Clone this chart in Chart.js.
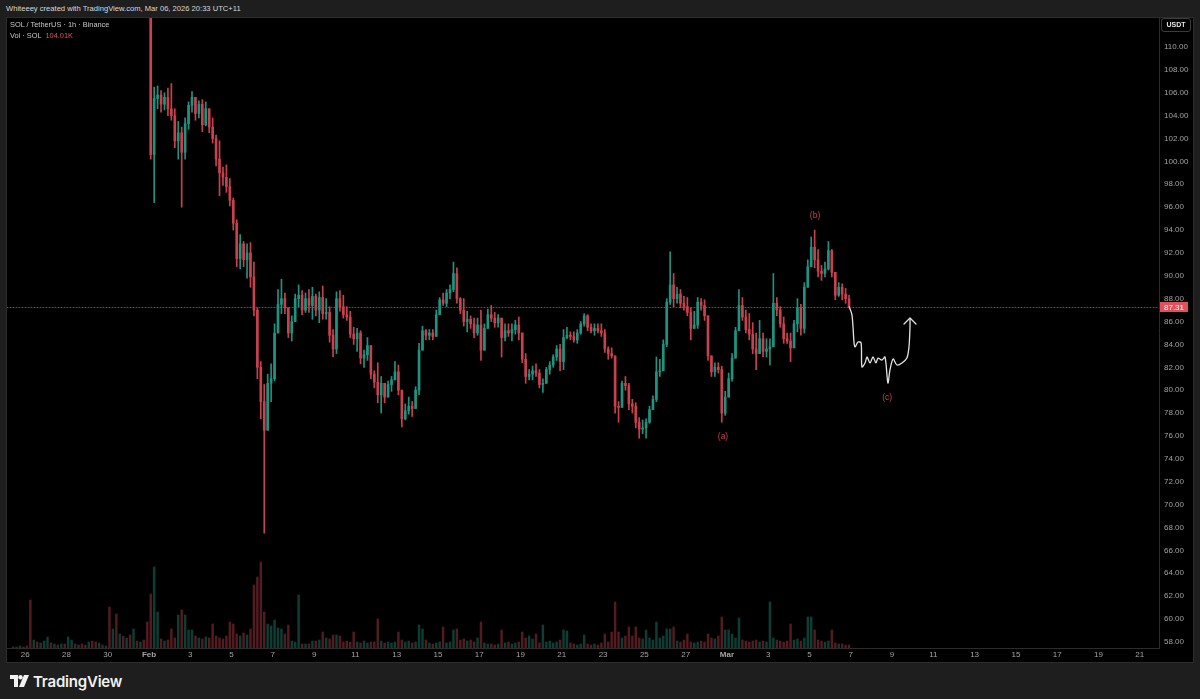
<!DOCTYPE html>
<html>
<head>
<meta charset="utf-8">
<script src="https://cdn.jsdelivr.net/npm/chart.js@4.4.1/dist/chart.umd.min.js"></script>
<style>
  html, body { margin: 0; padding: 0; width: 1200px; height: 699px; overflow: hidden; background: #1e1e1e; }
  body { font-family: "Liberation Sans", Arial, sans-serif; }
  #top { position: absolute; left: 6px; top: 3px; font-size: 7.6px; line-height: 12px; color: #d9d9d9; white-space: nowrap; }
  #frame { position: absolute; left: 7px; top: 18px; width: 1186px; height: 644px; background: #000; box-shadow: 0 0 0 1px #2c2c2c; }
  #chart { position: absolute; left: 0; top: 0; }
  #legend { position: absolute; left: 10px; top: 19px; font-size: 7.4px; line-height: 11px; color: #c9c9c9; white-space: nowrap; }
  #legend .red { color: #e2505b; }
  #unit { position: absolute; left: 1161px; top: 18px; width: 30px; height: 14px; border: 1px solid #3c3c3c; border-radius: 3px;
          box-sizing: border-box; color: #e6e6e6; font-size: 7px; font-weight: bold; line-height: 12px; text-align: center; }
  #logo { position: absolute; left: 10px; top: 673px; height: 16px; display: flex; align-items: center; color: #f2f2f2;
          font-family: Inter, "Liberation Sans", sans-serif; font-weight: 600; font-size: 15px; letter-spacing: -0.2px; }
  #logo svg { margin-right: 4px; }
</style>
</head>
<body>
<div id="top">Whiteeey created with TradingView.com, Mar 06, 2026 20:33 UTC+11</div>
<div id="frame"><canvas id="chart" width="1186" height="644"></canvas></div>
<div id="legend">
  <div>SOL / TetherUS · 1h · Binance</div>
  <div>Vol · SOL &nbsp;<span class="red">104.01K</span></div>
</div>
<div id="unit">USDT</div>
<div id="logo">
  <svg width="19" height="12" viewBox="0 0 19 12"><path d="M0 0H8V12H4V4H0Z" fill="#f2f2f2"/><circle cx="10.5" cy="2.2" r="2.2" fill="#f2f2f2"/><path d="M14 0H19L14 12H9Z" fill="#f2f2f2"/></svg>
  TradingView
</div>
<script>
// days counted from Feb 1 00:00, one candle = 4 hours
const slotDays = 4 / 24;
const priceStart = 0;            // Feb 1 00:00
const volStart = -160 / 24;      // Jan 25 08:00
const firstOpen = 116.0;

const closes = [
  100.6,105.5,105.8,105.0,105.6,104.6, 104.0,101.8,102.5,100.8,103.3,104.9,
  105.6,104.2,105.0,103.2,104.6,103.0, 102.0,100.2,99.0,98.6,97.8,96.6,
  94.6,91.5,92.8,91.4,92.0,89.9, 87.0,82.0,79.0,76.5,80.6,81.0,
  85.0,87.5,88.0,87.2,85.0,86.0, 88.0,88.3,87.0,88.0,87.4,88.2,
  87.0,88.1,86.7,86.8,84.8,83.6, 88.0,87.3,86.6,86.4,84.9,84.5,
  85.0,82.8,83.1,83.9,81.4,80.7, 79.6,80.6,79.4,80.5,80.9,81.6,
  80.0,77.5,78.2,78.6,78.4,80.0, 83.5,85.2,84.8,85.0,84.7,86.6,
  87.9,87.6,88.5,88.8,90.2,88.0, 87.0,86.0,86.2,85.8,85.0,85.7,
  83.5,85.4,86.6,86.3,85.9,86.3, 84.6,85.2,85.0,85.3,85.7,85.0,
  82.7,81.2,81.4,81.7,81.5,80.5, 80.6,81.8,82.2,82.9,83.6,82.5,
  84.6,84.8,84.7,84.4,85.0,85.8, 86.5,85.5,85.2,85.4,85.2,85.0,
  83.6,83.2,83.0,78.6,78.5,80.6, 80.4,78.8,78.6,77.2,76.6,76.7,
  77.2,78.3,79.2,81.6,81.7,84.0, 87.7,89.2,88.0,88.4,87.6,87.3,
  86.8,85.4,85.7,87.7,87.4,86.5, 83.0,81.6,82.0,81.8,78.0,79.4,
  81.0,82.8,85.2,87.4,86.4,85.3, 84.9,83.6,83.2,84.5,83.4,83.6,
  83.8,87.6,87.0,85.8,84.5,84.3, 83.7,85.8,87.2,85.4,89.0,90.8,
  92.5,91.4,90.4,90.2,90.6,92.2, 90.3,88.3,89.0,88.4,88.0,87.31
];
const highs = [
  116.5,106.5,106.6,106.2,106.0,106.4, 106.8,104.6,103.5,103.0,103.8,105.2,
  106.1,105.5,105.3,105.4,105.2,104.5, 103.8,102.3,101.8,99.5,99.7,98.5,
  96.8,94.9,93.6,93.0,92.8,92.9, 91.2,87.2,82.5,80.5,81.4,82.3,
  85.8,88.8,89.7,88.5,87.0,86.5, 88.4,89.2,88.7,88.5,88.8,89.0,
  88.4,88.6,89.1,88.0,87.3,85.3, 88.6,88.7,88.3,87.3,86.9,85.5,
  85.4,85.2,83.5,84.6,83.5,81.7, 82.4,81.2,80.5,80.8,81.2,82.5,
  82.2,79.4,78.8,79.4,79.0,80.3, 84.1,85.6,85.3,85.3,85.3,87.0,
  88.1,88.5,88.8,89.2,91.2,90.7, 88.1,88.0,86.9,86.5,86.3,86.3,
  87.0,85.8,87.1,87.4,86.8,86.6, 86.1,85.8,85.8,85.8,86.1,86.4,
  85.0,83.2,81.8,82.1,82.3,81.8, 81.0,82.0,82.5,83.1,83.9,84.0,
  85.3,85.5,85.1,85.1,85.3,86.0, 86.7,86.6,85.8,85.8,85.8,85.8,
  85.3,83.8,83.7,83.0,79.0,80.8, 81.2,80.6,79.2,78.9,77.6,77.4,
  77.5,78.6,79.5,82.9,82.7,84.4, 88.0,92.1,90.2,89.0,88.8,88.2,
  88.1,87.2,86.9,88.1,88.0,87.9, 86.1,82.7,82.4,82.4,82.1,79.9,
  81.5,83.2,85.5,88.8,88.1,87.0, 86.7,85.9,85.0,86.1,85.0,84.5,
  84.5,90.2,88.1,87.3,86.4,85.0, 85.0,86.1,88.0,87.5,89.4,91.4,
  93.4,94.0,92.3,90.9,91.2,93.0, 92.3,90.2,89.4,89.3,88.9,88.3
];
const lows = [
  100.2,96.4,104.6,104.3,104.5,104.0, 103.6,101.2,100.2,96.0,100.2,102.8,
  104.3,103.6,103.8,102.6,103.1,102.5, 101.6,99.6,97.0,97.9,97.3,96.1,
  94.0,90.8,90.6,90.8,89.8,89.0, 86.5,81.0,77.5,67.5,76.8,79.0,
  80.8,85.3,86.7,86.7,84.6,84.3, 86.0,87.3,86.6,86.8,86.8,86.2,
  86.5,85.9,86.2,86.2,84.2,82.9, 83.2,86.9,86.3,86.1,84.6,84.0,
  83.4,82.3,82.0,82.6,81.0,80.2, 78.9,78.0,78.9,79.6,79.9,81.2,
  79.6,76.8,77.4,77.9,77.7,78.8, 79.6,83.5,84.4,84.4,84.4,84.7,
  86.6,87.4,87.3,88.0,88.6,87.6, 86.7,85.6,85.1,85.4,84.6,84.8,
  82.6,83.5,85.4,86.0,85.5,85.5, 82.9,84.3,84.7,84.3,84.9,84.4,
  82.4,80.6,80.9,80.9,81.2,80.2, 79.8,80.6,81.4,82.0,82.6,81.7,
  81.8,84.5,84.4,84.2,84.1,84.9, 85.6,85.2,85.0,84.8,85.0,84.7,
  83.3,82.7,82.8,78.0,77.2,78.5, 80.0,78.3,78.0,76.7,75.8,76.2,
  75.8,77.1,78.3,79.0,81.2,81.7, 83.8,87.5,87.3,87.6,87.2,87.0,
  86.5,84.4,85.4,85.4,87.0,86.1, 82.6,81.2,81.2,81.5,77.2,77.8,
  79.4,80.8,82.8,85.2,86.1,85.0, 84.4,83.2,81.8,83.2,82.9,82.9,
  82.2,83.8,86.5,85.5,84.1,84.1, 82.5,83.7,85.1,84.8,85.0,89.0,
  90.8,90.7,89.9,89.6,89.9,90.5, 89.9,87.9,88.2,87.9,87.6,87.2
];

// volume in thousands of SOL, from Jan 25 08:00
const volumes = [
  35,35,70,35,70,1680,280,210,175,245,
  385,175,140,105,140,140,385,280,140,105,
  140,105,210,245,210,175,105,70,1435,665,
  1190,490,420,350,455,665,245,210,280,910,
  1890,2835,1260,315,245,280,665,350,1155,1330,
  1155,630,630,420,350,315,385,350,840,420,
  350,315,420,910,840,490,420,525,455,665,
  2205,2485,3010,1260,840,770,980,700,665,490,
  805,245,210,1855,140,140,140,245,245,280,
  560,350,315,455,455,420,210,245,210,560,
  210,175,245,175,210,210,1015,245,175,210,
  175,210,560,280,210,245,175,210,805,665,
  280,175,140,175,210,735,175,210,630,665,
  280,315,245,280,210,350,910,175,140,140,
  105,140,630,175,210,140,175,210,560,350,
  420,315,490,175,805,210,245,175,210,280,
  630,595,175,140,105,140,455,140,105,140,
  105,175,490,210,560,1610,560,350,420,735,
  420,735,350,315,630,350,280,910,350,420,
  665,665,735,245,210,280,490,210,175,210,
  245,210,490,350,315,420,1085,630,630,490,
  350,1050,280,245,210,245,280,210,245,210,
  1610,350,280,245,210,245,840,280,315,245,
  350,1085,1085,630,280,245,210,245,630,175,
  140,140,105,104.01
];
// direction of the volume bars before the first visible candle (1 = up)
const preVolUp = [1,0,1,0,0,0,1,0,1,1, 1,0,1,0,1,0,1,1,0,1, 0,0,1,0,0,1,0,1,0,1, 0,1,0,1,0,1,0,1,0,0];

// hand drawn projection
const projDays = [33.92,34.06,34.16,34.21,34.35,34.50,34.54,34.69,34.79,34.93,35.08,35.22,35.32,35.51,35.66,35.80,35.90,36.05,36.24,36.48,36.72,36.82,36.87,36.87];
const projPrices = [87.31,86.57,84.13,83.78,84.21,84.13,82.03,82.38,82.90,82.38,82.90,82.38,82.81,82.64,82.90,80.63,81.77,82.73,82.20,82.38,82.81,83.78,85.52,86.31];

const waveLabels = ['(a)', '(b)', '(c)'];
const waveDays = [27.81, 32.27, 35.76];
const wavePrices = [75.9, 95.23, 79.32];

const tickDays = [-6,-4,-2,0,2,4,6,8,10,12,14,16,18,20,22,24,26,28,30,32,34,36,38,40,42,44,46,48];
const tickLabels = ['26','28','30','Feb','3','5','7','9','11','13','15','17','19','21','23','25','27','Mar','3','5','7','9','11','13','15','17','19','21'];
const priceTicks = [58,60,62,64,66,68,70,72,74,76,78,80,82,84,86,88,90,92,94,96,98,100,102,104,106,108,110];

const upColor = '#1d9481';
const downColor = '#c8414d';
const upVol = 'rgba(29,148,129,0.42)';
const downVol = 'rgba(200,65,77,0.42)';
const waveColor = '#c9404d';
const lastPrice = closes[closes.length - 1];

// build candles
const opens = closes.map((c, i) => i === 0 ? firstOpen : closes[i - 1]);
const wickData = [], bodyData = [], candleColors = [];
closes.forEach((c, i) => {
  const o = opens[i];
  const d = priceStart + (i + 0.5) * slotDays;
  wickData.push({ x: d, y: [Math.min(lows[i], o, c), Math.max(highs[i], o, c)] });
  bodyData.push({ x: d, y: [Math.min(o, c), Math.max(o, c)] });
  candleColors.push(c >= o ? upColor : downColor);
});

const volData = [], volColors = [];
const offset = Math.round((priceStart - volStart) / slotDays);
volumes.forEach((v, j) => {
  volData.push({ x: volStart + (j + 0.5) * slotDays, y: v });
  const i = j - offset;
  const up = i >= 0 ? closes[i] >= opens[i] : preVolUp[j] === 1;
  volColors.push(up ? upVol : downVol);
});

const projData = projDays.map((d, i) => ({ x: d, y: projPrices[i] }));

const overlay = {
  id: 'overlay',
  afterDatasetsDraw(chart) {
    const { ctx, chartArea: a, scales: { x, y } } = chart;
    ctx.save();
    // arrow head on the projection
    const n = projDays.length;
    const tx = x.getPixelForValue(projDays[n - 1]);
    const ty = y.getPixelForValue(projPrices[n - 1]);
    ctx.strokeStyle = '#e2e2e2';
    ctx.lineWidth = 1.3;
    ctx.lineCap = 'round';
    ctx.lineJoin = 'round';
    ctx.beginPath();
    ctx.moveTo(tx - 6, ty + 6);
    ctx.lineTo(tx, ty);
    ctx.lineTo(tx + 6, ty + 6);
    ctx.stroke();

    // wave labels
    ctx.fillStyle = waveColor;
    ctx.font = '8.5px "Liberation Sans", Arial, sans-serif';
    ctx.textAlign = 'center';
    ctx.textBaseline = 'middle';
    waveLabels.forEach((t, i) => {
      ctx.fillText(t, x.getPixelForValue(waveDays[i]), y.getPixelForValue(wavePrices[i]));
    });

    // last price line
    const ly = Math.round(y.getPixelForValue(lastPrice)) + 0.5;
    ctx.strokeStyle = 'rgba(200,65,77,0.8)';
    ctx.lineWidth = 1;
    ctx.setLineDash([1, 2]);
    ctx.beginPath();
    ctx.moveTo(a.left, ly);
    ctx.lineTo(a.right, ly);
    ctx.stroke();
    ctx.restore();
  },
  afterDraw(chart) {
    const { ctx, chartArea: a, scales: { y } } = chart;
    const ly = Math.round(y.getPixelForValue(lastPrice));
    ctx.save();
    ctx.fillStyle = '#e2505b';
    ctx.fillRect(a.right + 1, ly - 5, 28, 10);
    ctx.fillStyle = '#ffffff';
    ctx.font = '8px "Liberation Sans", Arial, sans-serif';
    ctx.textAlign = 'left';
    ctx.textBaseline = 'middle';
    ctx.fillText(lastPrice.toFixed(2), a.right + 5, ly + 0.5);
    ctx.restore();
  }
};

new Chart(document.getElementById('chart'), {
  type: 'bar',
  data: {
    datasets: [
      { type: 'line', data: projData, borderColor: '#e2e2e2', borderWidth: 1.3, tension: 0.3,
        pointRadius: 0, fill: false, order: 0, yAxisID: 'y' },
      { data: bodyData, backgroundColor: candleColors, barThickness: 2, minBarLength: 1,
        grouped: false, order: 1, yAxisID: 'y' },
      { data: wickData, backgroundColor: candleColors, barThickness: 1,
        grouped: false, order: 2, yAxisID: 'y' },
      { data: volData, backgroundColor: volColors, barThickness: 1.8,
        grouped: false, order: 3, yAxisID: 'vol' }
    ]
  },
  options: {
    responsive: false,
    animation: false,
    devicePixelRatio: 1,
    layout: { padding: 0 },
    plugins: { legend: { display: false }, tooltip: { enabled: false } },
    scales: {
      x: {
        type: 'linear',
        min: -6.88, max: 48.934,
        offset: false,
        grid: { display: false, drawTicks: false },
        border: { display: true, color: '#2c2c2c' },
        afterBuildTicks: s => { s.ticks = tickDays.map(v => ({ value: v })); },
        afterFit: s => { s.height = 14; s.paddingLeft = 0; s.paddingRight = 0; },
        ticks: {
          autoSkip: false, maxRotation: 0, padding: 2, color: '#a3a3a3',
          font: ctx => ({ family: '"Liberation Sans", Arial, sans-serif', size: 8,
                          weight: (tickLabels[ctx.index] === 'Feb' || tickLabels[ctx.index] === 'Mar') ? 'bold' : 'normal' }),
          callback: (v, i) => tickLabels[i]
        }
      },
      y: {
        position: 'right',
        min: 57.465, max: 112.535,
        grid: { display: false, drawTicks: false },
        border: { display: true, color: '#2c2c2c' },
        afterBuildTicks: s => { s.ticks = priceTicks.map(v => ({ value: v })); },
        afterFit: s => { s.width = 34; s.paddingTop = 0; s.paddingBottom = 0; },
        ticks: {
          padding: 5, color: '#a3a3a3',
          font: { family: '"Liberation Sans", Arial, sans-serif', size: 8 },
          callback: v => v.toFixed(2)
        }
      },
      vol: { display: false, min: 0, max: 22050 }
    }
  },
  plugins: [overlay]
});
</script>
</body>
</html>
